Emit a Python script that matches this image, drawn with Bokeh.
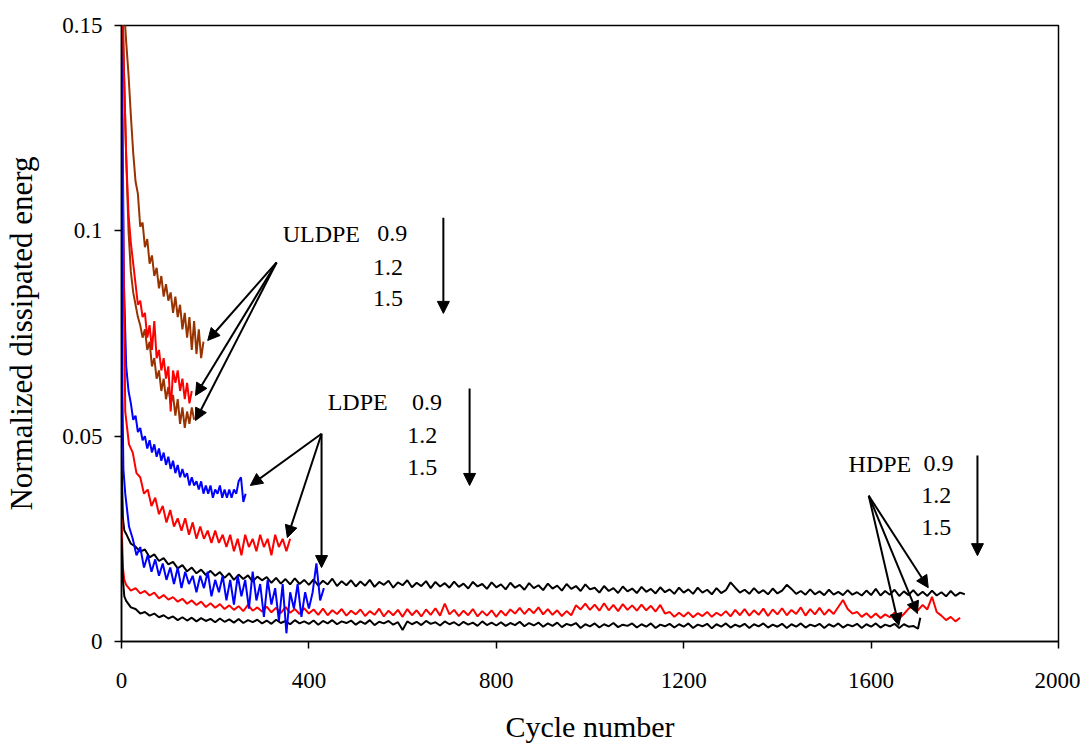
from bokeh.plotting import figure
from bokeh.models import Range1d, FixedTicker, Arrow, NormalHead, Label
from bokeh.embed import file_html
from bokeh.resources import INLINE

# ---------------- data ----------------
x_ticks = [0, 400, 800, 1200, 1600, 2000]
y_ticks = [0, 0.05, 0.1, 0.15]
y_tick_labels = {0: "0", 0.05: "0.05", 0.1: "0.1", 0.15: "0.15"}

# ULDPE
uldpe09_cycles = list(range(0, 176, 5))
uldpe09_energy = [0.170, 0.155, 0.146, 0.138, 0.128, 0.119, 0.112, 0.109, 0.101, 0.102,
                  0.096, 0.098, 0.092, 0.094, 0.089, 0.091, 0.086, 0.089, 0.084, 0.087,
                  0.083, 0.085, 0.080, 0.084, 0.079, 0.082, 0.076, 0.080, 0.074, 0.079,
                  0.071, 0.078, 0.070, 0.076, 0.069, 0.073]
uldpe12_cycles = list(range(0, 151, 5))
uldpe12_energy = [0.165, 0.140, 0.118, 0.104, 0.097, 0.092, 0.087, 0.082, 0.083, 0.079,
                  0.080, 0.074, 0.077, 0.071, 0.078, 0.069, 0.071, 0.066, 0.069, 0.064,
                  0.067, 0.056, 0.066, 0.063, 0.066, 0.061, 0.064, 0.059, 0.063, 0.058,
                  0.061]
uldpe15_cycles = list(range(0, 156, 5))
uldpe15_energy = [0.170, 0.140, 0.118, 0.100, 0.090, 0.085, 0.082, 0.079, 0.077, 0.074,
                  0.076, 0.071, 0.073, 0.067, 0.069, 0.064, 0.066, 0.061, 0.064, 0.059,
                  0.062, 0.058, 0.060, 0.055, 0.059, 0.053, 0.057, 0.052, 0.056, 0.053,
                  0.057, 0.054]

# LDPE
ldpe09_cycles = list(range(0, 266, 5))
ldpe09_energy = [0.160, 0.088, 0.067, 0.061, 0.058, 0.054, 0.055, 0.051, 0.052, 0.049,
                 0.050, 0.047, 0.049, 0.046, 0.048, 0.045, 0.047, 0.044, 0.046, 0.043,
                 0.045, 0.042, 0.044, 0.041, 0.043, 0.040, 0.042, 0.040, 0.041, 0.038,
                 0.040, 0.038, 0.039, 0.037, 0.039, 0.036, 0.038, 0.036, 0.038, 0.035,
                 0.037, 0.036, 0.038, 0.035, 0.037, 0.035, 0.037, 0.035, 0.037, 0.036,
                 0.039, 0.040, 0.034, 0.036]
ldpe12_cycles = list(range(0, 361, 8))
ldpe12_energy = [0.140, 0.056, 0.048, 0.046, 0.041, 0.040, 0.036, 0.037, 0.033, 0.035,
                 0.031, 0.033, 0.029, 0.032, 0.028, 0.030, 0.027, 0.030, 0.026, 0.029,
                 0.025, 0.028, 0.025, 0.027, 0.024, 0.027, 0.024, 0.026, 0.023, 0.026,
                 0.022, 0.025, 0.021, 0.026, 0.023, 0.025, 0.022, 0.026, 0.023, 0.025,
                 0.021, 0.026, 0.023, 0.025, 0.022, 0.025]
ldpe15_cycles = [0, 2, 4] + list(range(8, 433, 8))
ldpe15_energy = [0.160, 0.060, 0.042,
                 0.036, 0.028, 0.025, 0.021, 0.023, 0.018, 0.021, 0.017, 0.020, 0.016,
                 0.019, 0.015, 0.018, 0.014, 0.018, 0.013, 0.017, 0.014, 0.016, 0.012,
                 0.016, 0.013, 0.017, 0.011, 0.015, 0.012, 0.016, 0.010, 0.015, 0.009,
                 0.016, 0.011, 0.015, 0.008, 0.017, 0.010, 0.014, 0.006, 0.015, 0.009,
                 0.013, 0.005, 0.014, 0.002, 0.012, 0.008, 0.014, 0.006, 0.012, 0.008,
                 0.012, 0.019, 0.010, 0.013]

# HDPE
hdpe09_cycles = [0, 3, 6] + list(range(10, 1801, 10))
hdpe09_energy = [0.045, 0.030, 0.027,
                 0.0262, 0.0238, 0.0231, 0.0219, 0.0224, 0.0205, 0.0212, 0.0196, 0.0203, 0.0188,
                 0.0194, 0.0178, 0.0186, 0.0171, 0.0180, 0.0166, 0.0175, 0.0162, 0.0172, 0.0160,
                 0.0169, 0.0155, 0.0166, 0.0150, 0.0163, 0.0152, 0.0161, 0.0146, 0.0158, 0.0149,
                 0.0157, 0.0143, 0.0155, 0.0141, 0.0152, 0.0139, 0.0154, 0.0140, 0.0150, 0.0138,
                 0.0151, 0.0136, 0.0148, 0.0139, 0.0153, 0.0135, 0.0147, 0.0137, 0.0149, 0.0134,
                 0.0146, 0.0136, 0.0150, 0.0133, 0.0145, 0.0138, 0.0148, 0.0131, 0.0144, 0.0137,
                 0.0149, 0.0132, 0.0143, 0.0135, 0.0147, 0.0130, 0.0145, 0.0134, 0.0142, 0.0131,
                 0.0146, 0.0133, 0.0141, 0.0129, 0.0145, 0.0134, 0.0140, 0.0128, 0.0144, 0.0132,
                 0.0139, 0.0127, 0.0143, 0.0131, 0.0138, 0.0126, 0.0142, 0.0130, 0.0137, 0.0125,
                 0.0141, 0.0129, 0.0136, 0.0124, 0.0140, 0.0128, 0.0135, 0.0123, 0.0139, 0.0127,
                 0.0131, 0.0119, 0.0135, 0.0123, 0.0130, 0.0118, 0.0134, 0.0122, 0.0129, 0.0118,
                 0.0133, 0.0121, 0.0128, 0.0117, 0.0132, 0.0120, 0.0127, 0.0116, 0.0131, 0.0119,
                 0.0127, 0.0116, 0.0131, 0.0119, 0.0126, 0.0115, 0.0130, 0.0118, 0.0125, 0.0144,
                 0.0131, 0.0119, 0.0126, 0.0116, 0.0130, 0.0118, 0.0125, 0.0115, 0.0129, 0.0117,
                 0.0124, 0.0138, 0.0128, 0.0116, 0.0123, 0.0114, 0.0127, 0.0115, 0.0122, 0.0113,
                 0.0126, 0.0114, 0.0121, 0.0113, 0.0125, 0.0114, 0.0120, 0.0112, 0.0124, 0.0113,
                 0.0128, 0.0112, 0.0123, 0.0114, 0.0126, 0.0111, 0.0122, 0.0113, 0.0125, 0.0112,
                 0.0121, 0.0111, 0.0124, 0.0112, 0.0120, 0.0110, 0.0123, 0.0111, 0.0119, 0.0115]
hdpe12_cycles = [0, 3, 6] + list(range(10, 1791, 10))
hdpe12_energy = [0.030, 0.018, 0.015,
                 0.0138, 0.0124, 0.0130, 0.0117, 0.0123, 0.0112, 0.0119, 0.0105, 0.0113, 0.0102,
                 0.0108, 0.0097, 0.0104, 0.0092, 0.0100, 0.0089, 0.0097, 0.0084, 0.0093, 0.0082,
                 0.0091, 0.0079, 0.0088, 0.0077, 0.0086, 0.0074, 0.0089, 0.0075, 0.0083, 0.0073,
                 0.0085, 0.0071, 0.0082, 0.0069, 0.0084, 0.0070, 0.0079, 0.0067, 0.0081, 0.0068,
                 0.0078, 0.0065, 0.0080, 0.0064, 0.0076, 0.0067, 0.0079, 0.0063, 0.0075, 0.0066,
                 0.0078, 0.0062, 0.0074, 0.0065, 0.0080, 0.0061, 0.0075, 0.0064, 0.0077, 0.0060,
                 0.0079, 0.0064, 0.0076, 0.0061, 0.0078, 0.0065, 0.0081, 0.0063, 0.0092, 0.0066,
                 0.0077, 0.0062, 0.0075, 0.0064, 0.0079, 0.0061, 0.0074, 0.0063, 0.0076, 0.0060,
                 0.0075, 0.0063, 0.0078, 0.0068, 0.0082, 0.0067, 0.0080, 0.0069, 0.0083, 0.0066,
                 0.0079, 0.0065, 0.0076, 0.0062, 0.0074, 0.0064, 0.0088, 0.0078, 0.0092, 0.0077,
                 0.0090, 0.0075, 0.0093, 0.0076, 0.0089, 0.0074, 0.0091, 0.0077, 0.0088, 0.0075,
                 0.0090, 0.0076, 0.0087, 0.0073, 0.0089, 0.0068, 0.0072, 0.0060, 0.0070, 0.0061,
                 0.0071, 0.0059, 0.0069, 0.0062, 0.0072, 0.0060, 0.0070, 0.0063, 0.0074, 0.0061,
                 0.0077, 0.0064, 0.0079, 0.0063, 0.0076, 0.0065, 0.0080, 0.0062, 0.0078, 0.0066,
                 0.0081, 0.0064, 0.0077, 0.0067, 0.0083, 0.0063, 0.0079, 0.0066, 0.0082, 0.0065,
                 0.0078, 0.0067, 0.0084, 0.0101, 0.0079, 0.0068, 0.0072, 0.0060, 0.0069, 0.0058,
                 0.0068, 0.0057, 0.0066, 0.0059, 0.0070, 0.0056, 0.0067, 0.0080, 0.0087, 0.0076,
                 0.0089, 0.0078, 0.0109, 0.0072, 0.0063, 0.0052, 0.0060, 0.0049, 0.0058]
hdpe15_cycles = [0, 3, 6] + list(range(10, 1701, 10)) + [1705]
hdpe15_energy = [0.025, 0.015, 0.011,
                 0.0099, 0.0083, 0.0079, 0.0068, 0.0072, 0.0063, 0.0068, 0.0059, 0.0064, 0.0056,
                 0.0061, 0.0052, 0.0059, 0.0051, 0.0058, 0.0049, 0.0057, 0.0050, 0.0055, 0.0047,
                 0.0056, 0.0048, 0.0054, 0.0046, 0.0055, 0.0045, 0.0052, 0.0047, 0.0053, 0.0044,
                 0.0051, 0.0043, 0.0053, 0.0045, 0.0050, 0.0042, 0.0052, 0.0044, 0.0049, 0.0043,
                 0.0051, 0.0041, 0.0050, 0.0044, 0.0052, 0.0042, 0.0049, 0.0045, 0.0051, 0.0041,
                 0.0049, 0.0043, 0.0052, 0.0040, 0.0048, 0.0044, 0.0050, 0.0041, 0.0047, 0.0028,
                 0.0049, 0.0042, 0.0048, 0.0040, 0.0050, 0.0043, 0.0047, 0.0039, 0.0049, 0.0042,
                 0.0047, 0.0039, 0.0048, 0.0041, 0.0046, 0.0038, 0.0049, 0.0040, 0.0046, 0.0039,
                 0.0047, 0.0038, 0.0045, 0.0040, 0.0048, 0.0037, 0.0045, 0.0039, 0.0046, 0.0036,
                 0.0044, 0.0038, 0.0046, 0.0035, 0.0043, 0.0039, 0.0045, 0.0033, 0.0042, 0.0037,
                 0.0044, 0.0034, 0.0042, 0.0037, 0.0045, 0.0035, 0.0041, 0.0038, 0.0044, 0.0034,
                 0.0042, 0.0036, 0.0044, 0.0033, 0.0041, 0.0037, 0.0043, 0.0034, 0.0042, 0.0036,
                 0.0044, 0.0033, 0.0041, 0.0037, 0.0043, 0.0032, 0.0042, 0.0036, 0.0044, 0.0034,
                 0.0041, 0.0036, 0.0043, 0.0033, 0.0042, 0.0037, 0.0044, 0.0034, 0.0041, 0.0036,
                 0.0043, 0.0033, 0.0042, 0.0036, 0.0044, 0.0034, 0.0041, 0.0037, 0.0043, 0.0033,
                 0.0042, 0.0036, 0.0044, 0.0034, 0.0041, 0.0037, 0.0043, 0.0033, 0.0042, 0.0036,
                 0.0044, 0.0034, 0.0041, 0.0037, 0.0043, 0.0033, 0.0042, 0.0036, 0.0038, 0.0031,
                 0.0058]

# annotation texts and anchor points (cycle, energy)
group_names = ["ULDPE", "LDPE", "HDPE"]
group_name_pos = [(344, 0.0993), (440, 0.0583), (1552, 0.0433)]
level_texts = ["0.9", "1.2", "1.5"]
level_pos = [
    [(546, 0.0993), (537, 0.0910), (537, 0.0835)],
    [(620, 0.0583), (610, 0.0502), (610, 0.0424)],
    [(1712, 0.0433), (1707, 0.0355), (1707, 0.0278)],
]
pointer_origin = [(331, 0.0923), (427, 0.0506), (1595, 0.0355)]
pointer_targets = [
    [(184, 0.0733), (158, 0.0599), (158, 0.0538)],
    [(275, 0.0380), (354, 0.0253), (427, 0.0180)],
    [(1722, 0.0131), (1699, 0.0068), (1659, 0.0039)],
]
trend_arrows = [((687, 0.1032), (687, 0.0799)),
                ((743, 0.0616), (743, 0.0380)),
                ((1827, 0.0453), (1827, 0.0209))]

BROWN = "#993300"
RED = "#FF0000"
BLUE = "#0000FF"
BLACK = "#000000"
FONT = "Liberation Serif"

# ---------------- figure ----------------
p = figure(width=1080, height=747, output_backend="svg", toolbar_location=None,
           x_range=Range1d(0, 2000), y_range=Range1d(0, 0.15),
           min_border_left=121, min_border_right=22, min_border_top=25,
           min_border_bottom=106)
p.grid.visible = False
p.background_fill_color = "white"
p.border_fill_color = "white"
p.outline_line_color = "black"
p.outline_line_width = 1.5
p.outline_line_alpha = 1.0

p.xaxis.ticker = FixedTicker(ticks=x_ticks)
p.yaxis.ticker = FixedTicker(ticks=y_ticks)
p.yaxis.major_label_overrides = y_tick_labels
for ax in p.axis:
    ax.axis_line_color = "black"
    ax.axis_line_width = 1.5
    ax.major_tick_line_color = "black"
    ax.major_tick_line_width = 1.5
    ax.major_tick_in = 0
    ax.major_tick_out = 7
    ax.minor_tick_line_color = None
    ax.major_label_text_font = FONT
    ax.major_label_text_font_size = "23px"
    ax.major_label_text_color = "black"
    ax.axis_label_text_font = FONT
    ax.axis_label_text_font_style = "normal"
    ax.axis_label_text_color = "black"

p.xaxis.axis_label = "Cycle number"
p.yaxis.axis_label = "Normalized dissipated energ"
p.xaxis.axis_label_text_font_size = "30px"
p.yaxis.axis_label_text_font_size = "31px"
p.xaxis.major_label_standoff = 24
p.xaxis.axis_label_standoff = 19
p.yaxis.major_label_standoff = 12
p.yaxis.axis_label_standoff = 20

# curves (HDPE first, then LDPE, then ULDPE on top)
series = [
    (hdpe09_cycles, hdpe09_energy, BLACK),
    (hdpe12_cycles, hdpe12_energy, RED),
    (hdpe15_cycles, hdpe15_energy, BLACK),
    (ldpe09_cycles, ldpe09_energy, BLUE),
    (ldpe12_cycles, ldpe12_energy, RED),
    (ldpe15_cycles, ldpe15_energy, BLUE),
    (uldpe15_cycles, uldpe15_energy, BROWN),
    (uldpe12_cycles, uldpe12_energy, RED),
    (uldpe09_cycles, uldpe09_energy, BROWN),
]
for xs, ys, col in series:
    p.line(xs, ys, line_color=col, line_width=2)

# pointer arrows
for (ox, oy), targets in zip(pointer_origin, pointer_targets):
    for tx, ty in targets:
        p.add_layout(Arrow(end=NormalHead(size=12, fill_color="black", line_color="black"),
                           x_start=ox, y_start=oy, x_end=tx, y_end=ty,
                           line_color="black", line_width=2))
for (sx, sy), (ex, ey) in trend_arrows:
    p.add_layout(Arrow(end=NormalHead(size=12, fill_color="black", line_color="black"),
                       x_start=sx, y_start=sy, x_end=ex, y_end=ey,
                       line_color="black", line_width=2))

# texts
for name, (nx, ny) in zip(group_names, group_name_pos):
    p.add_layout(Label(x=nx, y=ny, text=name, text_font=FONT, text_font_size="24px",
                       text_baseline="middle", text_align="left", text_color="black"))
for positions in level_pos:
    for txt, (lx, ly) in zip(level_texts, positions):
        p.add_layout(Label(x=lx, y=ly, text=txt, text_font=FONT, text_font_size="24px",
                           text_baseline="middle", text_align="left", text_color="black"))

open("out.html", "w").write(file_html(p, INLINE))
